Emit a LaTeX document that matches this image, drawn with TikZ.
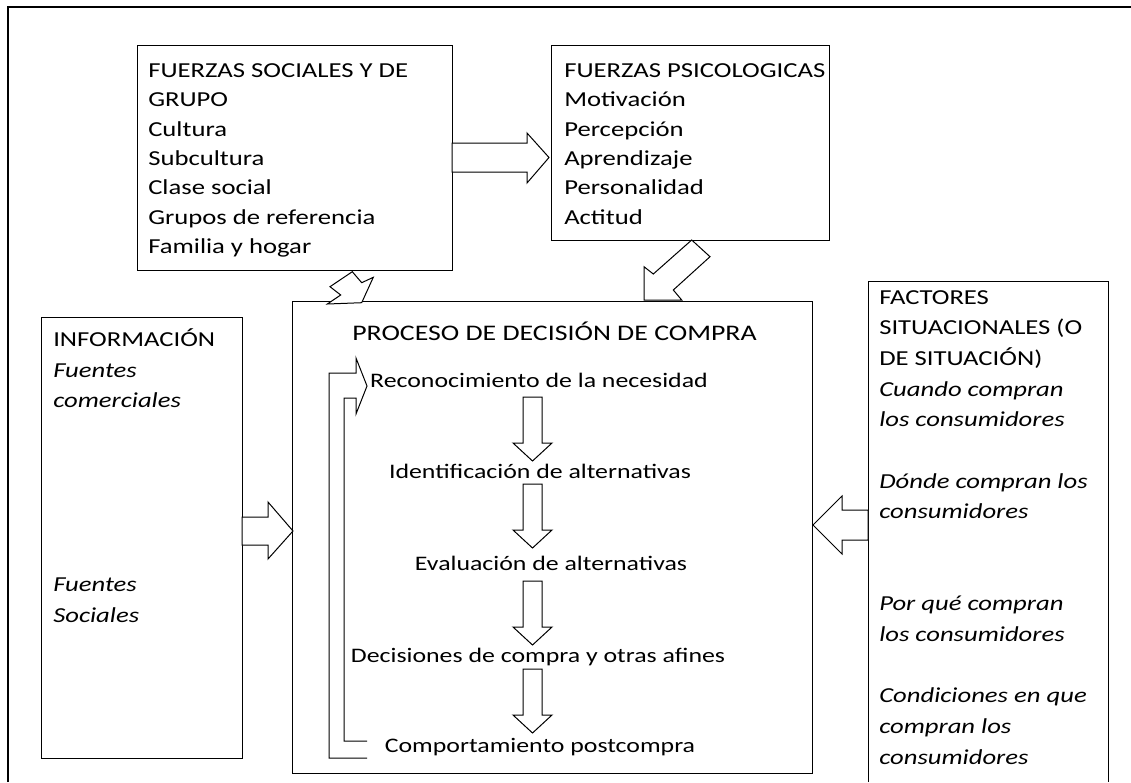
\documentclass[tikz,border=0pt]{standalone}
\usepackage{fontspec}
\setmainfont{Carlito}[FakeStretch=1.25]
\begin{document}
\begin{tikzpicture}[x=0.75pt,y=-0.75pt,
  frame/.style={line width=1.6pt},
  box/.style={draw,line width=0.75pt},
  blockarrow/.style={draw,fill=white,line width=0.75pt,line join=miter},
  feedback/.style={draw,line width=0.75pt,line join=miter},
  txt/.style={anchor=north west,inner sep=0pt,align=left,font=\fontsize{16}{22}\selectfont,execute at begin node=\strut},
  txtwide/.style={txt,font=\fontsize{16}{23}\selectfont},
  stagetext/.style={anchor=base,inner sep=0pt,font=\fontsize{15.5}{22}\selectfont}]
\useasboundingbox (0,0) rectangle (1131,782);
% outer frame
\draw[frame] (8,782) -- (8,7) -- (1131,7);
% boxes
\draw[box] (137,45) rectangle (452,270);
\draw[box] (551,45) rectangle (829,240);
\draw[box] (41,317) rectangle (242,758);
\draw[box] (292,301) rectangle (812,773);
\draw[box] (868,782) -- (868,281) -- (1108,281) -- (1108,782);
% texts
\node[txt] (social) at (148,63.5) {FUERZAS SOCIALES Y DE\\GRUPO\\Cultura\\Subcultura\\Clase social\\Grupos de referencia\\Familia y hogar};
\node[txt] (psych) at (564,63.5) {FUERZAS PSICOLOGICAS\\Motivación\\Percepción\\Aprendizaje\\Personalidad\\Actitud};
\node[txtwide] (info) at (53,328.5) {INFORMACIÓN\\\textit{Fuentes}\\\textit{comerciales}\\\mbox{}\\\mbox{}\\\mbox{}\\\mbox{}\\\mbox{}\\\textit{Fuentes}\\\textit{Sociales}};
\node[txtwide] (factors) at (879,290) {FACTORES\\SITUACIONALES (O\\DE SITUACIÓN)\\\textit{Cuando compran}\\\textit{los consumidores}\\\mbox{}\\\textit{Dónde compran los}\\\textit{consumidores}\\\mbox{}\\\mbox{}\\\textit{Por qué compran}\\\textit{los consumidores}\\\mbox{}\\\textit{Condiciones en que}\\\textit{compran los}\\\textit{consumidores}};
\node[anchor=base west,inner sep=0pt,font=\fontsize{16.7}{22}\selectfont] (title) at (352,340) {PROCESO DE DECISIÓN DE COMPRA};
\node[stagetext] (s1) at (539,387) {Reconocimiento de la necesidad};
\node[stagetext] (s2) at (540,478) {Identificación de alternativas};
\node[stagetext] (s3) at (551,570) {Evaluación de alternativas};
\node[stagetext] (s4) at (538,662) {Decisiones de compra y otras afines};
\node[stagetext] (s5) at (540,752) {Comportamiento postcompra};
% block arrows
\draw[blockarrow] (452,143) -- (527,143) -- (527,133) -- (549,157.5) -- (527,183) -- (527,172) -- (452,172) -- cycle;
\draw[blockarrow] (352.3,271.7) -- (361.7,282.7) -- (373.3,277.3) -- (361.7,302.7) -- (327.3,304) -- (340.7,295) -- (330,286.7) -- cycle;
\draw[blockarrow] (691.7,240) -- (710,256.7) -- (673.3,290) -- (681.7,300) -- (644,300) -- (644,266.7) -- (653.3,274) -- cycle;
\draw[blockarrow] (242,517) -- (268,517) -- (268,502) -- (293,531) -- (268,559) -- (268,545) -- (242,545) -- cycle;
\draw[blockarrow] (868,510) -- (842,510) -- (842,496) -- (813,525) -- (842,554) -- (842,540) -- (868,540) -- cycle;
\foreach \t in {397,484,581,669}
  \draw[blockarrow] (523,\t) -- (542,\t) -- (542,\t+46) -- (552,\t+46) -- (532.5,\t+64) -- (513,\t+46) -- (523,\t+46) -- cycle;
% feedback arrow
\draw[feedback] (367,758) -- (329,758) -- (329,373) -- (356,373) -- (356,358) -- (367,386) -- (356,414) -- (356,398) -- (344,398) -- (344,741) -- (367,741);
\end{tikzpicture}
\end{document}
